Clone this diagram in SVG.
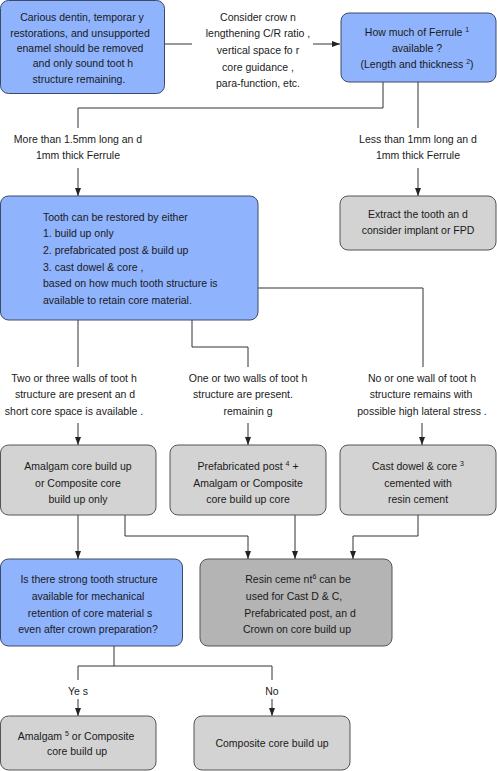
<svg xmlns="http://www.w3.org/2000/svg" width="497" height="771" viewBox="0 0 497 771">
<style>
text{font-family:"Liberation Sans",Arial,sans-serif;font-size:10.5px;fill:#1a1a1a}
.c{text-anchor:middle}
.blue{fill:#8fb3fd;stroke:#3d4a66;stroke-width:1}
.grey{fill:#d3d3d3;stroke:#555;stroke-width:1}
.dgrey{fill:#b4b4b4;stroke:#555;stroke-width:1}
.ln{fill:none;stroke:#333;stroke-width:1}
.ar{fill:none;stroke:#333;stroke-width:1;marker-end:url(#ah)}
.sup{font-size:7px}
</style>
<defs>
<marker id="ah" viewBox="0 0 8 8" refX="8" refY="4" markerWidth="8" markerHeight="8" markerUnits="userSpaceOnUse" orient="auto">
<path d="M0,1 L8,4 L0,7 z" fill="#222"/>
</marker>
</defs>
<rect width="497" height="771" fill="#fff"/>
<g id="connectors">
<path class="ln" d="M165,44 H192"/>
<path class="ar" d="M313,44 H340"/>
<path class="ln" d="M383,82 V108 H78 V128"/>
<path class="ln" d="M418,82 V128"/>
<path class="ar" d="M78,168 V196"/>
<path class="ar" d="M418,168 V196"/>
<path class="ln" d="M258,288 H423 V367"/>
<path class="ln" d="M78,320 V367"/>
<path class="ln" d="M192,320 V347 H248 V367"/>
<path class="ar" d="M78,423 V445"/>
<path class="ar" d="M248,423 V445"/>
<path class="ar" d="M422,423 V445"/>
<path class="ar" d="M78,515 V559"/>
<path class="ar" d="M125,515 V536 H248 V559"/>
<path class="ar" d="M295,515 V559"/>
<path class="ar" d="M418,515 V536 H353 V559"/>
<path class="ln" d="M114,646 V666"/>
<path class="ln" d="M78,666 H272"/>
<path class="ln" d="M78,666 V680"/>
<path class="ln" d="M272,666 V680"/>
<path class="ar" d="M78,699 V716"/>
<path class="ar" d="M272,699 V716"/>
</g>
<g id="n1">
<rect class="blue" x="0.5" y="0.5" width="164" height="93" rx="8"/>
<text class="c" x="82" y="21">Carious dentin, temporar y</text>
<text class="c" x="80" y="37">restorations, and unsupported</text>
<text class="c" x="80" y="52">enamel should be removed</text>
<text class="c" x="83" y="67">and only sound toot h</text>
<text class="c" x="79" y="83">structure remaining.</text>
</g>
<g id="n2">
<text class="c" x="258" y="21">Consider crow n</text>
<text class="c" x="258" y="37">lengthening C/R ratio ,</text>
<text class="c" x="258" y="54">vertical space fo r</text>
<text class="c" x="258" y="71">core guidance ,</text>
<text class="c" x="258" y="87">para-function, etc.</text>
</g>
<g id="n3">
<rect class="blue" x="341" y="13" width="155" height="69" rx="8"/>
<text class="c" x="417" y="36">How much of Ferrule <tspan class="sup" dy="-4">1</tspan></text>
<text class="c" x="417" y="52">available ?</text>
<text class="c" x="417" y="68">(Length and thickness <tspan class="sup" dy="-4">2</tspan><tspan dy="4">)</tspan></text>
</g>
<g id="l1">
<text class="c" x="78" y="143">More than 1.5mm long an d</text>
<text class="c" x="78" y="159">1mm thick Ferrule</text>
</g>
<g id="l2">
<text class="c" x="418" y="143">Less than 1mm long an d</text>
<text class="c" x="418" y="159">1mm thick Ferrule</text>
</g>
<g id="n4">
<rect class="blue" x="0.5" y="196" width="257.5" height="124" rx="8"/>
<text x="43" y="221">Tooth can be restored by either</text>
<text x="43" y="237">1. build up only</text>
<text x="43" y="254">2. prefabricated post &amp; build up</text>
<text x="43" y="271">3. cast dowel &amp; core   ,</text>
<text x="43" y="287">based on how much tooth structure is</text>
<text x="43" y="304">available to retain core material.</text>
</g>
<g id="n5">
<rect class="grey" x="340" y="196" width="156" height="54" rx="8"/>
<text class="c" x="418" y="218">Extract the tooth an d</text>
<text class="c" x="418" y="234">consider implant or FPD</text>
</g>
<g id="l3">
<text class="c" x="74" y="382">Two or three walls of toot h</text>
<text class="c" x="75" y="398">structure are present an d</text>
<text class="c" x="74" y="415">short core space is available  .</text>
</g>
<g id="l4">
<text class="c" x="248" y="382">One or two walls of toot h</text>
<text class="c" x="243" y="398">structure are present.</text>
<text class="c" x="248" y="415">remainin g</text>
</g>
<g id="l5">
<text class="c" x="422" y="382">No or one wall of toot h</text>
<text class="c" x="421" y="398">structure remains with</text>
<text class="c" x="422" y="415">possible high lateral stress  .</text>
</g>
<g id="n6">
<rect class="grey" x="0.5" y="445" width="155.5" height="70" rx="8"/>
<text class="c" x="78" y="470">Amalgam core build up</text>
<text class="c" x="78" y="487">or Composite core</text>
<text class="c" x="78" y="503">build up only</text>
</g>
<g id="n7">
<rect class="grey" x="170" y="445" width="156" height="70" rx="8"/>
<text class="c" x="248" y="470">Prefabricated post <tspan class="sup" dy="-4">4</tspan><tspan dy="4"> +</tspan></text>
<text class="c" x="248" y="487">Amalgam or Composite</text>
<text class="c" x="248" y="503">core build up core</text>
</g>
<g id="n8">
<rect class="grey" x="340" y="445" width="156" height="70" rx="8"/>
<text class="c" x="418" y="470">Cast dowel &amp; core <tspan class="sup" dy="-4">3</tspan></text>
<text class="c" x="418" y="487">cemented with</text>
<text class="c" x="418" y="503">resin cement</text>
</g>
<g id="n9">
<rect class="blue" x="0.5" y="559" width="182" height="87" rx="8"/>
<text class="c" x="89" y="583">Is there strong tooth structure</text>
<text class="c" x="88" y="600">available for mechanical</text>
<text class="c" x="90" y="617">retention of core material s</text>
<text class="c" x="88" y="633">even after crown preparation?</text>
</g>
<g id="n10">
<rect class="dgrey" x="200" y="559" width="192" height="87" rx="8"/>
<text class="c" x="298" y="583">Resin ceme nt<tspan class="sup" dy="-4">6</tspan><tspan dy="4"> can be</tspan></text>
<text class="c" x="294" y="600">used for Cast D &amp; C,</text>
<text class="c" x="300" y="617">Prefabricated post, an d</text>
<text class="c" x="297" y="633">Crown on core build up</text>
</g>
<g id="l6">
<text class="c" x="78" y="695">Ye s</text>
<text class="c" x="272" y="695">No</text>
</g>
<g id="n11">
<rect class="grey" x="0.5" y="716" width="155.5" height="54" rx="8"/>
<text class="c" x="76" y="740">Amalgam <tspan class="sup" dy="-4">5</tspan><tspan dy="4"> or Composite</tspan></text>
<text class="c" x="77" y="755">core build up</text>
</g>
<g id="n12">
<rect class="grey" x="194" y="716" width="156" height="54" rx="8"/>
<text class="c" x="272" y="747">Composite core build up</text>
</g>
</svg>
